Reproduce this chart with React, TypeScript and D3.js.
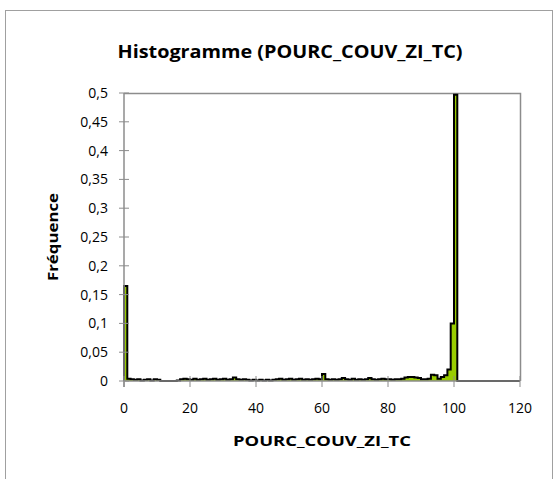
import * as d3 from 'd3';
import {useEffect, useRef} from "react";
import * as React from "react";

// bin lower bounds are 0..119, each bin is 1 wide
const binFreq: number[] = [
    0.165, 0.004, 0.003, 0.002, 0.003, 0.001, 0.002, 0.003, 0.001, 0.003,
    0.002, 0, 0, 0, 0, 0, 0.001, 0.003, 0.004, 0.003,
    0.002, 0.004, 0.002, 0.003, 0.004, 0.002, 0.003, 0.004, 0.002, 0.003,
    0.004, 0.002, 0.003, 0.006, 0.003, 0.002, 0.003, 0.002, 0.001, 0.002,
    0.001, 0.002, 0.001, 0.002, 0.001, 0.002, 0.003, 0.004, 0.002, 0.003,
    0.004, 0.002, 0.003, 0.004, 0.002, 0.003, 0.002, 0.003, 0.004, 0.003,
    0.012, 0.003, 0.002, 0.003, 0.002, 0.003, 0.005, 0.003, 0.002, 0.004,
    0.002, 0.003, 0.002, 0.003, 0.005, 0.003, 0.002, 0.003, 0.004, 0.003,
    0.003, 0.002, 0.003, 0.003, 0.004, 0.006, 0.007, 0.007, 0.006, 0.005,
    0.003, 0.003, 0.004, 0.011, 0.01, 0.004, 0.007, 0.01, 0.02, 0.1,
    0.497, 0, 0, 0, 0, 0, 0, 0, 0, 0,
    0, 0, 0, 0, 0, 0, 0, 0, 0, 0,
];

const xTicks = [0, 20, 40, 60, 80, 100, 120];
const yTicks = [0, 0.05, 0.1, 0.15, 0.2, 0.25, 0.3, 0.35, 0.4, 0.45, 0.5];

const chartTitle = "Histogramme (POURC_COUV_ZI_TC)";
const xTitle = "POURC_COUV_ZI_TC";
const yTitle = "Fréquence";

export default function App() {
    const svgRef = useRef<SVGSVGElement | null>(null);

    useEffect(() => {
        const W = 560, H = 479;
        const plot = { left: 124, right: 520, top: 93, bottom: 381 };
        const font = "Open Sans, sans-serif";
        const gray = "#8c8c8c";

        const svg = d3.select(svgRef.current)
            .attr("width", W)
            .attr("height", H)
            .html("");

        svg.append("rect")
            .attr("width", W).attr("height", H).attr("fill", "white");

        // outer chart frame
        svg.append("rect")
            .attr("x", 5.5).attr("y", 10.5)
            .attr("width", 547).attr("height", 490)
            .attr("fill", "white")
            .attr("stroke", "#a0a0a0")
            .attr("stroke-width", 1);

        const x = d3.scaleLinear().domain([0, 120]).range([plot.left, plot.right]);
        const y = d3.scaleLinear().domain([0, 0.5]).range([plot.bottom, plot.top]);

        // plot frame (top and right)
        svg.append("path")
            .attr("d", `M${plot.left},${plot.top + 0.5}H${plot.right + 0.5}V${plot.bottom}`)
            .attr("fill", "none")
            .attr("stroke", gray)
            .attr("stroke-width", 1.5);

        const points: [number, number][] = binFreq.map((f, i) => [i, f]);
        points.push([120, 0]);

        const area = d3.area<[number, number]>()
            .x(d => x(d[0]))
            .y0(y(0))
            .y1(d => y(d[1]))
            .curve(d3.curveStepAfter);

        const line = d3.line<[number, number]>()
            .x(d => x(d[0]))
            .y(d => y(d[1]))
            .curve(d3.curveStepAfter);

        svg.append("path")
            .datum(points)
            .attr("d", area)
            .attr("fill", "#99cc00");

        svg.append("path")
            .datum([[0, 0] as [number, number], ...points])
            .attr("d", line)
            .attr("fill", "none")
            .attr("stroke", "#000")
            .attr("stroke-width", 2)
            .attr("stroke-linejoin", "miter");

        // y axis
        const yAxis = svg.append("g");
        yAxis.append("line")
            .attr("x1", plot.left).attr("x2", plot.left)
            .attr("y1", plot.top).attr("y2", plot.bottom + 6)
            .attr("stroke", gray).attr("stroke-width", 1.5);
        yAxis.selectAll(".yt")
            .data(yTicks)
            .enter()
            .append("line")
            .attr("x1", plot.left - 5).attr("x2", plot.left + 5)
            .attr("y1", d => y(d)).attr("y2", d => y(d))
            .attr("stroke", gray).attr("stroke-width", 1);
        yAxis.selectAll("text")
            .data(yTicks)
            .enter()
            .append("text")
            .attr("x", plot.left - 16)
            .attr("y", d => y(d) + 5)
            .attr("text-anchor", "end")
            .style("font-family", font)
            .style("font-size", "14px")
            .attr("fill", "#000")
            .text(d => String(d).replace(".", ","));

        // x axis
        const xAxis = svg.append("g");
        xAxis.append("line")
            .attr("x1", plot.left).attr("x2", plot.right)
            .attr("y1", plot.bottom).attr("y2", plot.bottom)
            .attr("stroke", gray).attr("stroke-width", 1.5);
        xAxis.selectAll(".xt")
            .data(xTicks)
            .enter()
            .append("line")
            .attr("x1", d => x(d)).attr("x2", d => x(d))
            .attr("y1", plot.bottom - 5).attr("y2", plot.bottom + 6)
            .attr("stroke", gray).attr("stroke-width", 1);
        xAxis.selectAll("text")
            .data(xTicks)
            .enter()
            .append("text")
            .attr("x", d => x(d))
            .attr("y", plot.bottom + 32)
            .attr("text-anchor", "middle")
            .style("font-family", font)
            .style("font-size", "14px")
            .attr("fill", "#000")
            .text(d => String(d));

        svg.append("text")
            .attr("x", 290).attr("y", 58)
            .attr("text-anchor", "middle")
            .style("font-family", font)
            .style("font-size", "17px")
            .style("font-weight", "bold")
            .attr("textLength", 345)
            .attr("lengthAdjust", "spacingAndGlyphs")
            .text(chartTitle);

        svg.append("text")
            .attr("x", 322).attr("y", 446)
            .attr("text-anchor", "middle")
            .style("font-family", font)
            .style("font-size", "15px")
            .style("font-weight", "bold")
            .attr("textLength", 178)
            .attr("lengthAdjust", "spacingAndGlyphs")
            .text(xTitle);

        svg.append("text")
            .attr("transform", `translate(58,${(plot.top + plot.bottom) / 2}) rotate(-90)`)
            .attr("text-anchor", "middle")
            .style("font-family", font)
            .style("font-size", "15px")
            .style("font-weight", "bold")
            .attr("textLength", 88)
            .attr("lengthAdjust", "spacingAndGlyphs")
            .text(yTitle);
    }, []);

    return <svg ref={svgRef} style={{position: "absolute", left: 0, top: 0}}></svg>;
}
